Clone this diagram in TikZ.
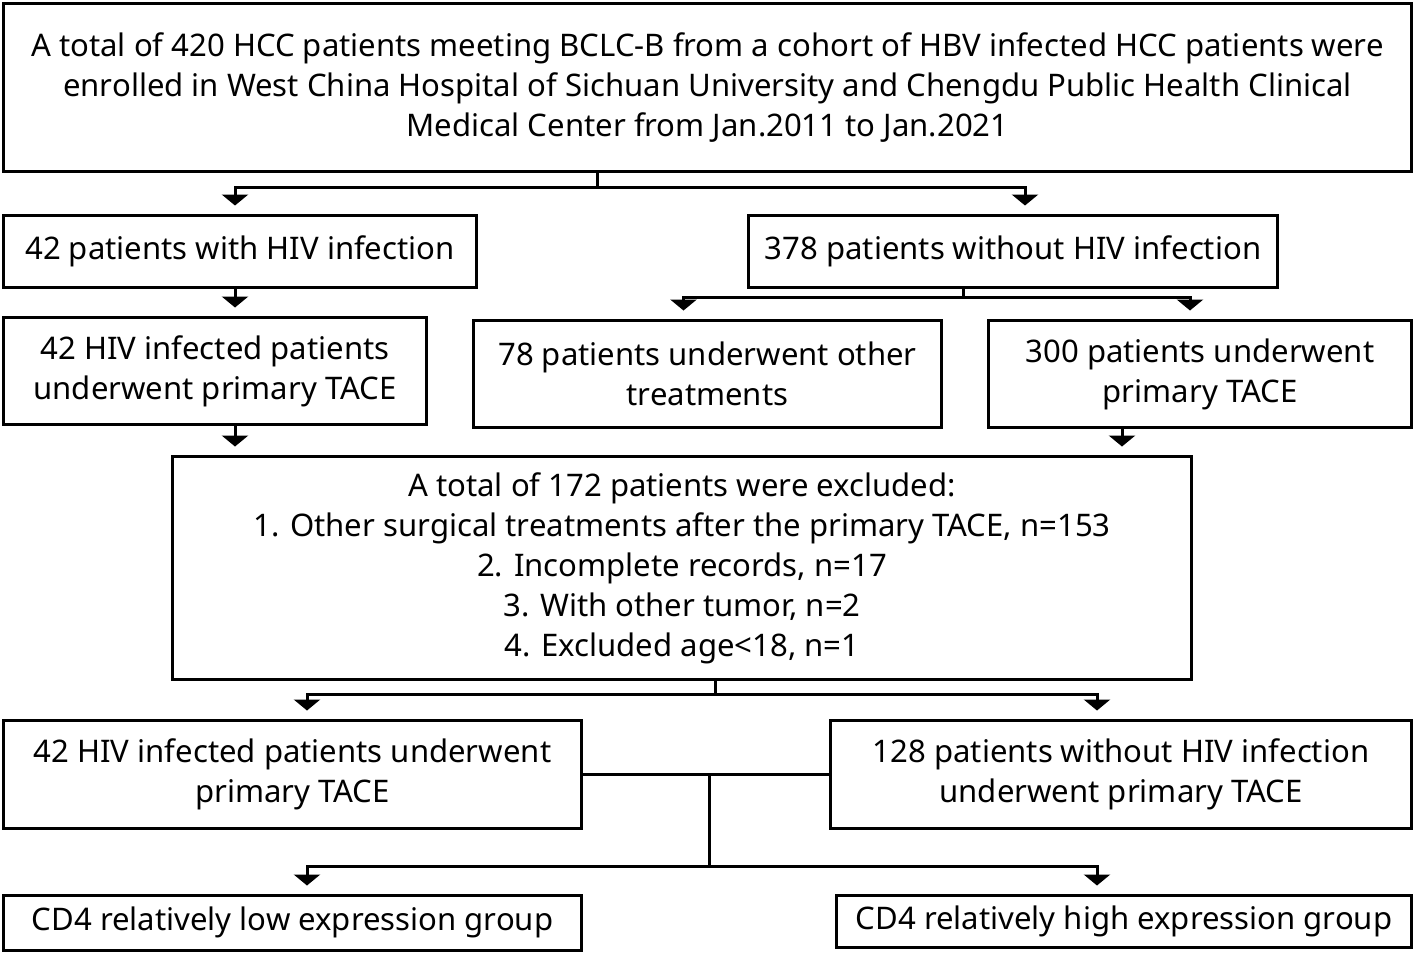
\documentclass[tikz,border=0pt]{standalone}
\usepackage{fontspec}
\setmainfont{Noto Sans}
\usepackage{tikz}
\usetikzlibrary{arrows.meta, positioning, calc}

\begin{document}
\begin{tikzpicture}[
    x=0.02cm, y=-0.02cm,
    line width=0.06cm,
    box/.style={draw, line width=0.06cm, inner sep=0pt, align=center, font=\fontsize{17.7}{22.8}\selectfont},
    arr/.style={-{Triangle[width=0.52cm,length=0.22cm]}, shorten >=0.16cm},
]
    \useasboundingbox (0,0) rectangle (1416,954);

    % Cohort
    \node[box, minimum width=28.18cm, minimum height=3.38cm] (top) at (707.5,87.5) {A total of 420 HCC patients meeting BCLC-B from a cohort of HBV infected HCC patients were\\
        enrolled in West China Hospital of Sichuan University and Chengdu Public Health Clinical\\
        Medical Center from Jan.2011 to Jan.2021};

    % HIV split
    \node[box, minimum width=9.48cm, minimum height=1.44cm] (hiv) at (240,251) {42 patients with HIV infection};
    \node[box, minimum width=10.6cm, minimum height=1.44cm] (nohiv) at (1013,251) {378 patients without HIV infection};

    % Treatments
    \node[box, minimum width=8.48cm, minimum height=2.16cm] (hivtace) at (215,371) {42 HIV infected patients\\underwent primary TACE};
    \node[box, minimum width=9.38cm, minimum height=2.16cm] (other) at (707.5,374) {78 patients underwent other\\treatments};
    \node[box, minimum width=8.48cm, minimum height=2.16cm] (notace) at (1200,374) {300 patients underwent\\primary TACE};

    % Exclusion
    \node[box, minimum width=20.4cm, minimum height=4.48cm] (excl) at (682,568) {A total of 172 patients were excluded:\\
        1. Other surgical treatments after the primary TACE, n=153\\
        2. Incomplete records, n=17\\
        3. With other tumor, n=2\\
        4. Excluded age<18, n=1};

    % Final groups
    \node[box, minimum width=11.58cm, minimum height=2.16cm] (grpA) at (292.5,774) {42 HIV infected patients underwent\\primary TACE};
    \node[box, minimum width=11.64cm, minimum height=2.16cm] (grpB) at (1121,774) {128 patients without HIV infection\\underwent primary TACE};

    % CD4 groups
    \node[box, minimum width=11.58cm, minimum height=1.1cm] (low) at (292.5,922.5) {CD4 relatively low expression group};
    \node[box, minimum width=11.52cm, minimum height=1.04cm] (high) at (1124,921) {CD4 relatively high expression group};

    % Connectors
    \draw ($(top.south)+(-110,0)$) -- ++(0,14) coordinate (b1);
    \draw[arr] (b1) -| ($(hiv.north)+(-5,0)$);
    \draw[arr] (b1) -| ($(nohiv.north)+(12,0)$);
    \draw[arr] ($(hiv.south)+(-5,0)$) -- ($(hivtace.north)+(20,0)$);

    \draw ($(nohiv.south)+(-50,0)$) -- ++(0,9) coordinate (b2);
    \draw[arr] (b2) -| ($(other.north)+(-24,0)$);
    \draw[arr] (b2) -| ($(notace.north)+(-10,0)$);

    \draw[arr] ($(hivtace.south)+(20,0)$) -- ($(excl.north)+(-447,0)$);
    \draw[arr] ($(notace.south)+(-78,0)$) -- ($(excl.north)+(440,0)$);

    \draw ($(excl.south)+(33,0)$) -- ++(0,13) coordinate (b3);
    \draw[arr] (b3) -| ($(grpA.north)+(14.5,0)$);
    \draw[arr] (b3) -| ($(grpB.north)+(-24,0)$);

    \draw (grpA.east) -- (grpB.west);
    \draw ($(grpA.east)!0.515!(grpB.west)$) coordinate (b4) -- ++(0,92) coordinate (b5);
    \draw[arr] (b5) -| ($(low.north)+(14.5,0)$);
    \draw[arr] (b5) -| ($(high.north)+(-27,0)$);
\end{tikzpicture}
\end{document}
